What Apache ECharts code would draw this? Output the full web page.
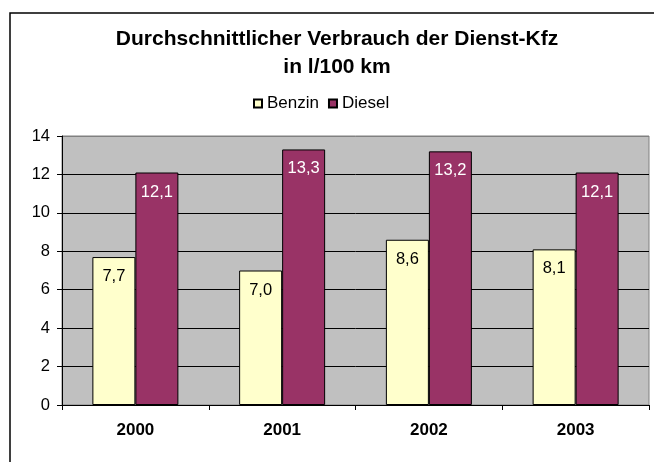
<!DOCTYPE html>
<html>
<head>
<meta charset="utf-8">
<script src="https://cdn.jsdelivr.net/npm/echarts@6/dist/echarts.min.js"></script>
<style>
    html, body { margin: 0; padding: 0; background: #fff; }
    #chartDiv { width: 654px; height: 462px; }
</style>
</head>
<body>
<div id="chartDiv"></div>
<script>

var years = ['2000', '2001', '2002', '2003'];
var benzin = [7.7, 7.0, 8.6, 8.1];
var diesel = [12.1, 13.3, 13.2, 12.1];
var seriesNames = ['Benzin', 'Diesel'];
var titleLines = ['Durchschnittlicher Verbrauch der Dienst-Kfz', 'in l/100 km'];

/*Zahlen mit Komma*/
function deNumber(v) {
    return v.toFixed(1).replace('.', ',');
}

function loadChart() {

    var chart = echarts.init(document.getElementById("chartDiv"));
    var font = 'Liberation Sans, Arial, sans-serif';

    var option = {
        animation: false,
        textStyle: { fontFamily: font },
        graphic: [
            {
                type: 'rect',
                z: -10,
                shape: { x: 10, y: 13, width: 700, height: 500 },
                style: { fill: '#fff', stroke: '#000', lineWidth: 1.5 }
            },
            {
                type: 'text',
                x: 337, y: 39,
                style: {
                    text: titleLines[0], align: 'center', verticalAlign: 'middle',
                    font: 'bold 21px ' + font, fill: '#000'
                }
            },
            {
                type: 'text',
                x: 337, y: 67,
                style: {
                    text: titleLines[1], align: 'center', verticalAlign: 'middle',
                    font: 'bold 21px ' + font, fill: '#000'
                }
            }
        ],
        legend: {
            left: 253,
            top: 95,
            padding: 0,
            icon: 'rect',
            itemWidth: 8,
            itemHeight: 8,
            itemGap: 9,
            textStyle: { fontSize: 17, color: '#000' },
            data: seriesNames
        },
        grid: {
            left: 62, right: 5, top: 136, bottom: 57,
            show: true,
            backgroundColor: '#c0c0c0',
            borderColor: '#808080',
            borderWidth: 1
        },
        xAxis: {
            type: 'category',
            data: years,
            axisLine: { lineStyle: { color: '#000', width: 1 } },
            axisTick: { show: true, length: 5, lineStyle: { color: '#000' } },
            axisLabel: { fontSize: 17, fontWeight: 'bold', color: '#000', margin: 17 }
        },
        yAxis: {
            type: 'value',
            min: 0, max: 14, interval: 2,
            axisLine: { show: true, lineStyle: { color: '#000', width: 1 } },
            axisTick: { show: true, length: 5, lineStyle: { color: '#000' } },
            axisLabel: { fontSize: 16.5, color: '#000', margin: 12 },
            splitLine: {
                lineStyle: {
                    color: ['#000', '#000', '#000', '#000', '#000', '#000', '#000', '#808080'],
                    width: 1
                }
            }
        },
        series: [
            {
                name: seriesNames[0],
                type: 'bar',
                data: benzin,
                barWidth: 43,
                barGap: '0%',
                itemStyle: { color: '#ffffcc', borderColor: '#000', borderWidth: 1 },
                label: {
                    show: true, position: 'insideTop', distance: 11,
                    fontSize: 16.5, color: '#000',
                    formatter: function (p) { return deNumber(p.value); }
                }
            },
            {
                name: seriesNames[1],
                type: 'bar',
                data: diesel,
                barWidth: 43,
                barGap: '0%',
                itemStyle: { color: '#993366', borderColor: '#000', borderWidth: 1 },
                label: {
                    show: true, position: 'insideTop', distance: 11,
                    fontSize: 16.5, color: '#fff',
                    formatter: function (p) { return deNumber(p.value); }
                }
            }
        ]
    };

    chart.setOption(option);
}

loadChart();

</script>
</body>
</html>
